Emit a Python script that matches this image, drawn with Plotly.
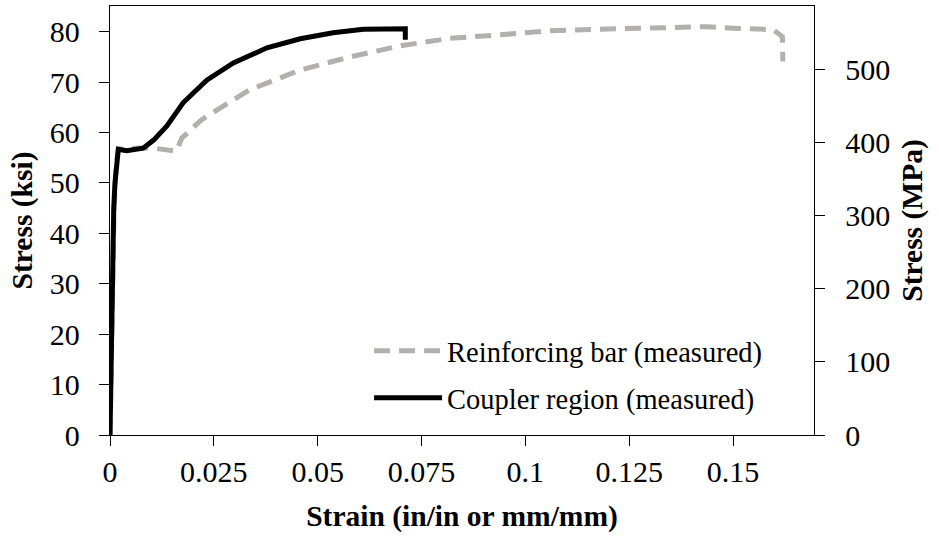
import plotly.graph_objects as go

KSI_TO_MPA = 6.894757

# Reinforcing bar (measured)
bar_strain = [0, 0.0003, 0.0006, 0.0010, 0.0015, 0.0020, 0.0050, 0.0080, 0.0105, 0.0135,
              0.0160, 0.0173, 0.0188, 0.0220, 0.0258, 0.0337, 0.0458, 0.0578, 0.0699,
              0.0819, 0.0940, 0.1060, 0.1180, 0.1300, 0.1366, 0.1438, 0.1500, 0.1558,
              0.1597, 0.1619, 0.1620, 0.1620]
bar_stress = [0, 15, 35, 45, 54, 56.7, 56.8, 57.0, 56.9, 56.5,
              56.3, 58.9, 60.0, 62.5, 64.5, 68.5, 72.4, 75.0, 77.2,
              78.7, 79.4, 80.2, 80.5, 80.7, 81.0, 81.0, 80.7, 80.5,
              80.4, 79.0, 76.4, 74.1]

# Coupler region (measured)
cpl_strain = [0, 0.0002, 0.0004, 0.0006, 0.0009, 0.0012, 0.0017, 0.0020, 0.0040, 0.0060,
              0.0080, 0.0105, 0.0137, 0.0176, 0.0233, 0.0297, 0.0378, 0.0458, 0.0537,
              0.0610, 0.0660, 0.0711, 0.0711]
cpl_stress = [0, 12, 25, 35, 45, 50, 55, 56.7, 56.4, 56.6,
              56.9, 58.5, 61.3, 65.9, 70.4, 73.8, 76.8, 78.6, 79.8,
              80.5, 80.6, 80.6, 78.4]

x_ticks = [0, 0.025, 0.05, 0.075, 0.1, 0.125, 0.15]
x_tick_labels = ["0", "0.025", "0.05", "0.075", "0.1", "0.125", "0.15"]
ksi_ticks = [0, 10, 20, 30, 40, 50, 60, 70, 80]
mpa_ticks = [0, 100, 200, 300, 400, 500]

X_MAX = 0.1695
Y_MAX = 85.1

FONT = "Liberation Serif"
TICK_FS = 30
TITLE_FS = 29.5
LEG_FS = 28.5

fig = go.Figure()
fig.add_trace(go.Scatter(
    x=bar_strain, y=bar_stress, mode="lines",
    name="Reinforcing bar (measured)",
    line=dict(color="#b3afaf", width=5, dash="16px,9px"),
    legendgroup="a",
))
fig.add_trace(go.Scatter(
    x=cpl_strain, y=cpl_stress, mode="lines",
    name="Coupler region (measured)",
    line=dict(color="black", width=5),
    legendgroup="b",
))
# same bar data in MPa on the secondary axis (invisible, just carries the right axis)
fig.add_trace(go.Scatter(
    x=bar_strain, y=[s * KSI_TO_MPA for s in bar_stress], mode="lines",
    yaxis="y2", opacity=0, showlegend=False, hoverinfo="skip",
    line=dict(width=0, color="white"),
))

axis_common = dict(
    showgrid=False, zeroline=False, showline=True, linecolor="black", linewidth=1.3,
    ticks="outside", ticklen=10, tickcolor="black", tickwidth=1.3, automargin=False,
    tickfont=dict(family=FONT, size=TICK_FS, color="black"),
)

fig.update_layout(
    width=939, height=538,
    margin=dict(l=110, r=125, t=6, b=103),
    paper_bgcolor="white", plot_bgcolor="white",
    font=dict(family=FONT, size=TICK_FS, color="black"),
    xaxis=dict(
        range=[0, X_MAX], tickvals=x_ticks, ticktext=x_tick_labels, mirror=True,
        ticklabelstandoff=0,
        title=dict(text="<b>Strain (in/in or mm/mm)</b>", font=dict(family=FONT, size=TITLE_FS), standoff=18),
        **axis_common,
    ),
    yaxis=dict(
        range=[0, Y_MAX], tickvals=ksi_ticks, ticklabelstandoff=13,
        title=dict(text="<b>Stress (ksi)</b>", font=dict(family=FONT, size=TITLE_FS), standoff=8),
        **axis_common,
    ),
    yaxis2=dict(
        range=[0, Y_MAX * KSI_TO_MPA], tickvals=mpa_ticks, overlaying="y", side="right",
        ticklabelstandoff=14,
        title=dict(text="<b>Stress (MPa)</b>", font=dict(family=FONT, size=TITLE_FS), standoff=12),
        **axis_common,
    ),
    legend=dict(
        x=0.368, y=0.255, xanchor="left", yanchor="top",
        bgcolor="rgba(0,0,0,0)", font=dict(family=FONT, size=LEG_FS),
        traceorder="grouped", tracegroupgap=7, itemwidth=68,
    ),
    showlegend=True,
)

fig.write_html("out.html", config={"displayModeBar": False},
               post_script="document.body.style.margin='0px';")
